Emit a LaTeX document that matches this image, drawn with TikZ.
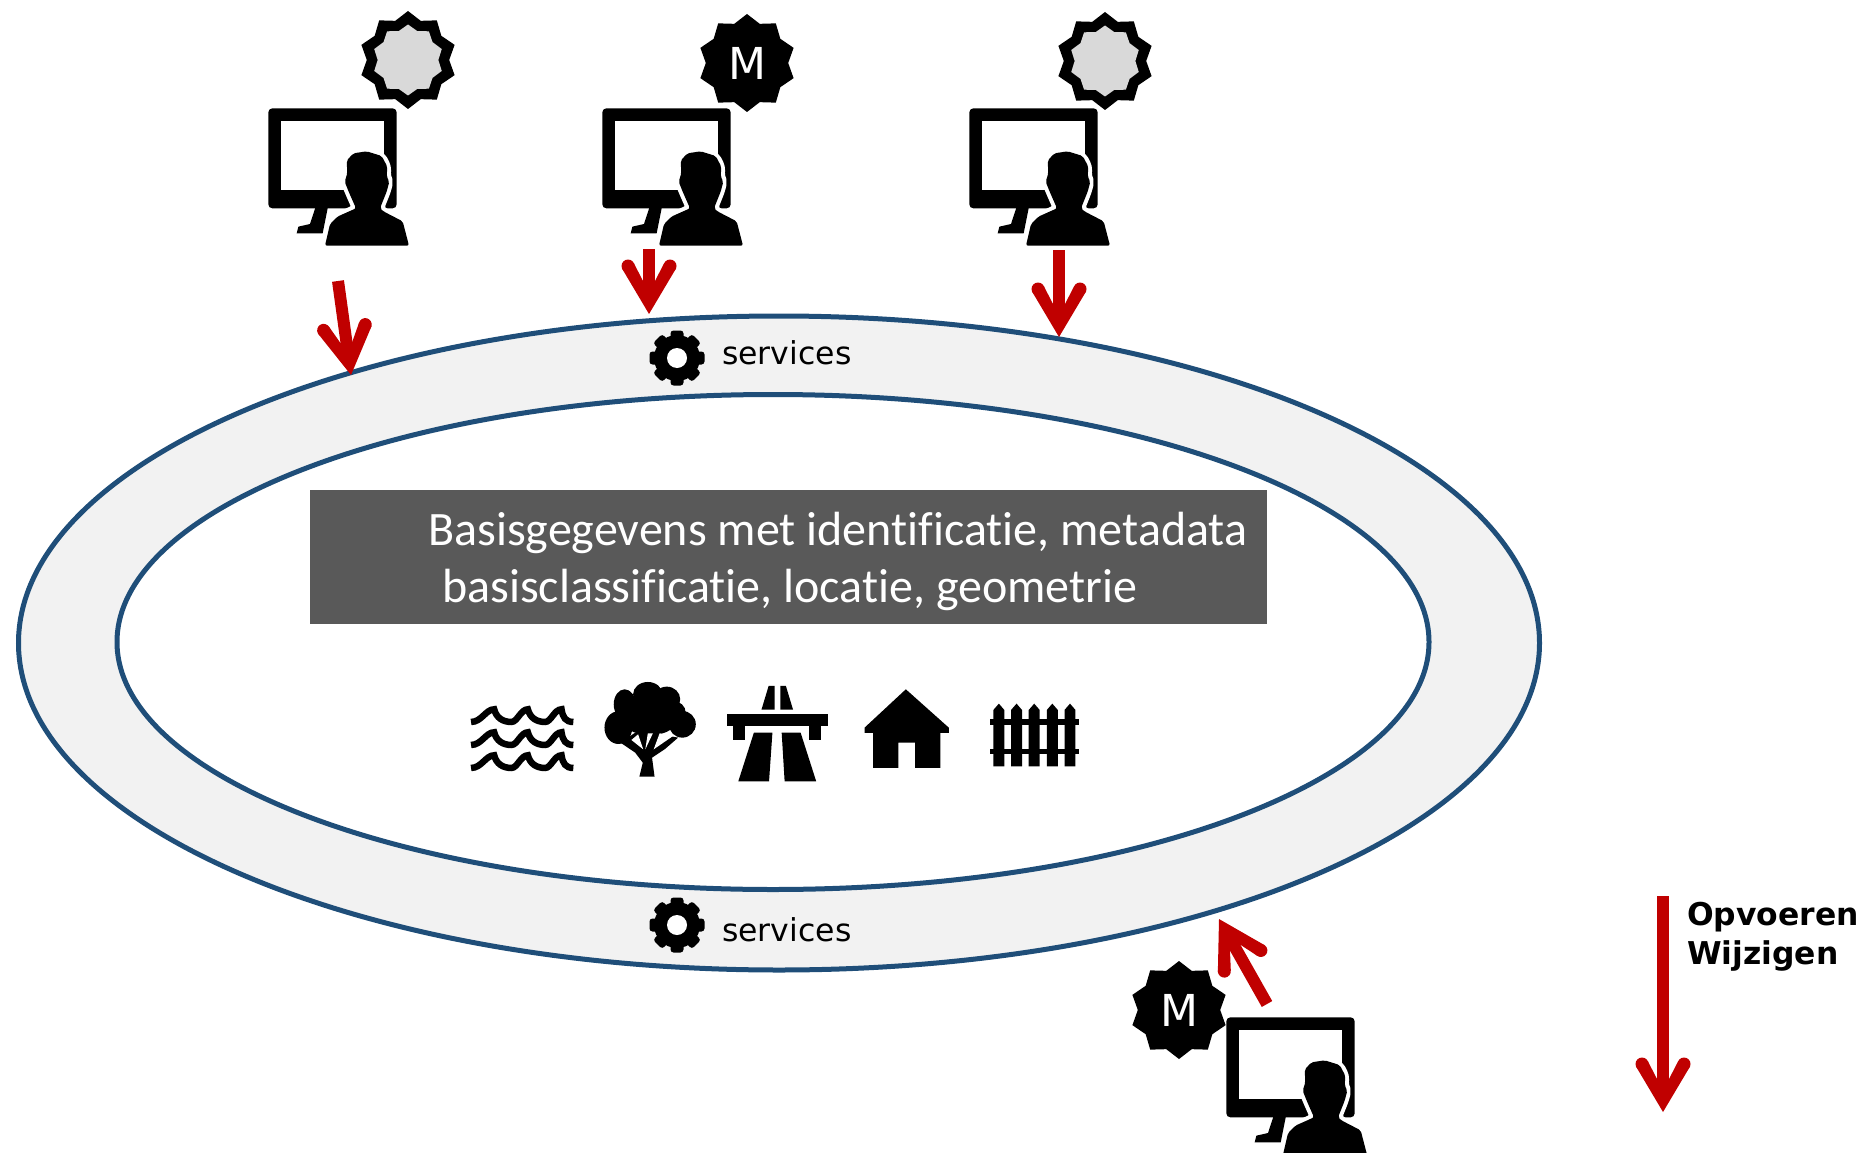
\documentclass[tikz,border=0pt]{standalone}
\usepackage{fontspec}
\setmainfont{DejaVu Sans}
\newfontfamily\carlitofont[Ligatures=NoCommon]{Carlito}
\usetikzlibrary{shapes.geometric,arrows.meta}
\definecolor{ringblue}{HTML}{1F4E79}
\definecolor{ringfill}{HTML}{F2F2F2}
\definecolor{boxgrey}{HTML}{595959}
\definecolor{flowred}{HTML}{C00000}
\definecolor{badgegrey}{HTML}{D9D9D9}
\pgfdeclarearrow{
  name=FlowTip,
  setup code={
    \pgfarrowssettipend{0pt}
    \pgfarrowssetlineend{-30pt}
    \pgfarrowssetvisualbackend{-30pt}
    \pgfarrowssetbackend{-55pt}
    \pgfarrowshullpoint{0pt}{0pt}
    \pgfarrowshullpoint{-55pt}{27pt}
    \pgfarrowshullpoint{-55pt}{-27pt}
  },
  drawing code={
    \pgfsetfillcolor{flowred}
    \pgfpathmoveto{\pgfpoint{0pt}{0pt}}
    \pgfpathlineto{\pgfpoint{-45.4pt}{26.95pt}}
    \pgfpathlineto{\pgfpoint{-50.6pt}{15.05pt}}
    \pgfpathlineto{\pgfpoint{-33pt}{6pt}}
    \pgfpathlineto{\pgfpoint{-33pt}{-6pt}}
    \pgfpathlineto{\pgfpoint{-50.6pt}{-15.05pt}}
    \pgfpathlineto{\pgfpoint{-45.4pt}{-26.95pt}}
    \pgfpathclose
    \pgfusepathqfill
    \pgfpathcircle{\pgfpoint{-48pt}{21pt}}{6.5pt}
    \pgfusepathqfill
    \pgfpathcircle{\pgfpoint{-48pt}{-21pt}}{6.5pt}
    \pgfusepathqfill
  }
}
\tikzset{
  ringshape/.style={ellipse,draw=ringblue,line width=5pt,inner sep=0pt},
  flow/.style={draw=flowred,line width=12pt,-{FlowTip}},
  badgeblack/.style={star,star points=10,star point ratio=1.19,fill=black,minimum size=98pt,inner sep=0pt,text=white},
  badgeinner/.style={star,star points=10,star point ratio=1.17,fill=badgegrey,minimum size=71pt,inner sep=0pt},
  zoomgrid/.style={x=0.33333pt,y=-0.33333pt},
  icongrid/.style={x=0.4209pt,y=-0.33333pt},
  workstation/.pic={
    \begin{scope}[zoomgrid]
      \fill[black] (197,620) -- (180,672) -- (145,680) -- (140,700) -- (218,700) -- (234,620) -- cycle;
      \fill[black,rounded corners=4pt] (55,325) rectangle (440,625);
      \fill[white] (93,362) rectangle (402,570);
      \path[draw=white,line width=8pt,line join=round,rounded corners=4pt]
        (225,737) -- (240,672) -- (262,650) -- (318,625) -- (296,575) -- (284,545) -- (292,520)
        -- (290,482) -- (310,460) -- (350,454) -- (395,468) -- (412,500) -- (410,530) -- (418,545)
        -- (410,575) -- (390,625) -- (400,634) -- (458,664) -- (477,737) -- cycle;
      \path[fill=black,rounded corners=2pt]
        (225,737) -- (240,672) -- (262,650) -- (318,625) -- (296,575) -- (284,545) -- (292,520)
        -- (290,482) -- (310,460) -- (350,454) -- (395,468) -- (412,500) -- (410,530) -- (418,545)
        -- (410,575) -- (390,625) -- (400,634) -- (458,664) -- (477,737) -- cycle;
    \end{scope}
  },
  geargear/.pic={
    \foreach \a in {0,45,...,315}{
      \fill[black,rotate=\a,rounded corners=3pt] (-6.5,-27.5) rectangle (6.5,0);
    }
    \fill[black] (0,0) circle[radius=23pt];
    \fill[white] (0,0) circle[radius=10pt];
  },
  waterlogo/.pic={
    \begin{scope}[icongrid]
      \foreach \dy in {0,69,138}{
        \draw[black,line width=6.5pt,shift={(0,\dy)}]
          (50,158) .. controls (75,158) and (85,120) .. (105,120)
          .. controls (110,145) and (125,158) .. (146,158)
          .. controls (160,158) and (168,120) .. (185,120)
          .. controls (190,145) and (205,158) .. (226,158)
          .. controls (240,158) and (248,120) .. (265,120)
          .. controls (268,145) and (275,158) .. (293,158);
      }
    \end{scope}
  },
  treelogo/.pic={
    \begin{scope}[icongrid]
      \fill[black] (470,75) circle[x radius=35,y radius=37];
      \fill[black] (415,105) circle[x radius=26,y radius=45];
      \fill[black] (515,90) circle[x radius=32,y radius=38];
      \fill[black] (400,175) circle[x radius=33,y radius=49];
      \fill[black] (552,165) circle[x radius=32,y radius=40];
      \fill[black] (530,130) circle[x radius=30,y radius=35];
      \fill[black] (475,140) circle[x radius=70,y radius=58];
      \fill[black] (450,322) -- (486,322) -- (480,265) -- (510,240) -- (542,205) -- (500,195) -- (440,190) -- (405,220) -- (440,250) -- (458,280) -- cycle;
      \fill[white] (431,212) -- (447,195) -- (459,240) -- cycle;
      \fill[white] (464,240) -- (470,192) -- (482,192) -- cycle;
      \fill[white] (484,240) -- (498,192) -- (530,200) -- cycle;
    \end{scope}
  },
  roadlogo/.pic={
    \begin{scope}[icongrid]
      \fill[black] (757,50) -- (771,50) -- (771,121) -- (740,121) -- cycle;
      \fill[black] (785,50) -- (798,50) -- (815,121) -- (785,121) -- cycle;
      \fill[black] (657,135) rectangle (897,171);
      \fill[black] (673,171) rectangle (700,212);
      \fill[black] (854,171) rectangle (882,212);
      \fill[black] (722,190) -- (766,190) -- (758,336) -- (685,336) -- cycle;
      \fill[black] (788,190) -- (833,190) -- (870,336) -- (795,336) -- cycle;
    \end{scope}
  },
  houselogo/.pic={
    \begin{scope}[icongrid]
      \fill[black] (1083,60) -- (1185,175) -- (1185,191) -- (1165,191) -- (1165,296) -- (1105,296) -- (1105,220)
        -- (1065,220) -- (1065,296) -- (1005,296) -- (1005,191) -- (985,191) -- (985,175) -- cycle;
    \end{scope}
  },
  fencelogo/.pic={
    \begin{scope}[icongrid]
      \foreach \px in {1291,1333,1375,1418,1460}{
        \fill[black] (\px,122) -- ({\px+13},103) -- ({\px+26},122) -- ({\px+26},291) -- (\px,291) -- cycle;
      }
      \fill[black] (1283,150) rectangle (1495,168);
      \fill[black] (1283,238) rectangle (1495,255);
    \end{scope}
  }
}
\begin{document}
\begin{tikzpicture}[x=1pt,y=-1pt]
  \useasboundingbox (0,0) rectangle (1865,1153);
  % ring
  \node[ringshape,fill=ringfill,minimum width=1521pt,minimum height=654pt] (outerring) at (779,643) {};
  \node[ringshape,fill=white,minimum width=1312pt,minimum height=495pt] (innerring) at (773,642) {};
  % title box
  \node[fill=boxgrey,minimum width=957pt,minimum height=134pt,inner sep=0pt] (titlebox) at (788.5,557) {};
  \node[anchor=base west,inner sep=0pt,text=white,font=\carlitofont\fontsize{48}{48}\selectfont] (titleone) at (428,545) {Basisgegevens met identificatie, metadata};
  \node[anchor=base west,inner sep=0pt,text=white,font=\carlitofont\fontsize{48}{48}\selectfont] (titletwo) at (442,602) {basisclassificatie, locatie, geometrie};
  % services
  \pic (geartop) at (677,358) {geargear};
  \pic (gearbottom) at (677,925) {geargear};
  \node[anchor=base west,inner sep=0pt,font=\fontsize{31.5}{31.5}\selectfont] (servicestop) at (722,364) {services};
  \node[anchor=base west,inner sep=0pt,font=\fontsize{31.5}{31.5}\selectfont] (servicesbottom) at (722,941) {services};
  % logos
  \pic (water) at (450,669.3) {waterlogo};
  \pic (tree) at (450,669.3) {treelogo};
  \pic (road) at (450,669.3) {roadlogo};
  \pic (house) at (450,669.3) {houselogo};
  \pic (fence) at (450,669.3) {fencelogo};
  % users
  \pic (userone) at (250,0) {workstation};
  \pic (usertwo) at (584,0) {workstation};
  \pic (userthree) at (951,0) {workstation};
  \pic (userfour) at (1208,909) {workstation};
  % badges
  \node[badgeblack] (badgeone) at (408,60) {};
  \node[badgeinner] (badgeoneinner) at (408,60) {};
  \node[badgeblack,font=\fontsize{44}{44}\selectfont] (badgetwo) at (747,63) {M};
  \node[badgeblack] (badgethree) at (1105,61) {};
  \node[badgeinner] (badgethreeinner) at (1105,61) {};
  \node[badgeblack,font=\fontsize{44}{44}\selectfont] (badgefour) at (1179,1010) {M};
  % arrows
  \coordinate (aones) at (338,281);
  \coordinate (aonee) at (351,375);
  \coordinate (atwos) at (649,249);
  \coordinate (atwoe) at (649,314);
  \coordinate (athrees) at (1059,250);
  \coordinate (athreee) at (1059,337);
  \coordinate (afours) at (1267,1004);
  \coordinate (afoure) at (1219,919);
  \coordinate (legends) at (1663,896);
  \coordinate (legende) at (1663,1112);
  \draw[flow] (aones) -- (aonee);
  \draw[flow] (atwos) -- (atwoe);
  \draw[flow] (athrees) -- (athreee);
  \draw[flow] (afours) -- (afoure);
  \draw[flow] (legends) -- (legende);
  % legend
  \node[anchor=base west,inner sep=0pt,font=\bfseries\fontsize{31.4}{31.4}\selectfont] (legendone) at (1687,925) {Opvoeren};
  \node[anchor=base west,inner sep=0pt,font=\bfseries\fontsize{31.4}{31.4}\selectfont] (legendtwo) at (1687,964) {Wijzigen};
\end{tikzpicture}
\end{document}
